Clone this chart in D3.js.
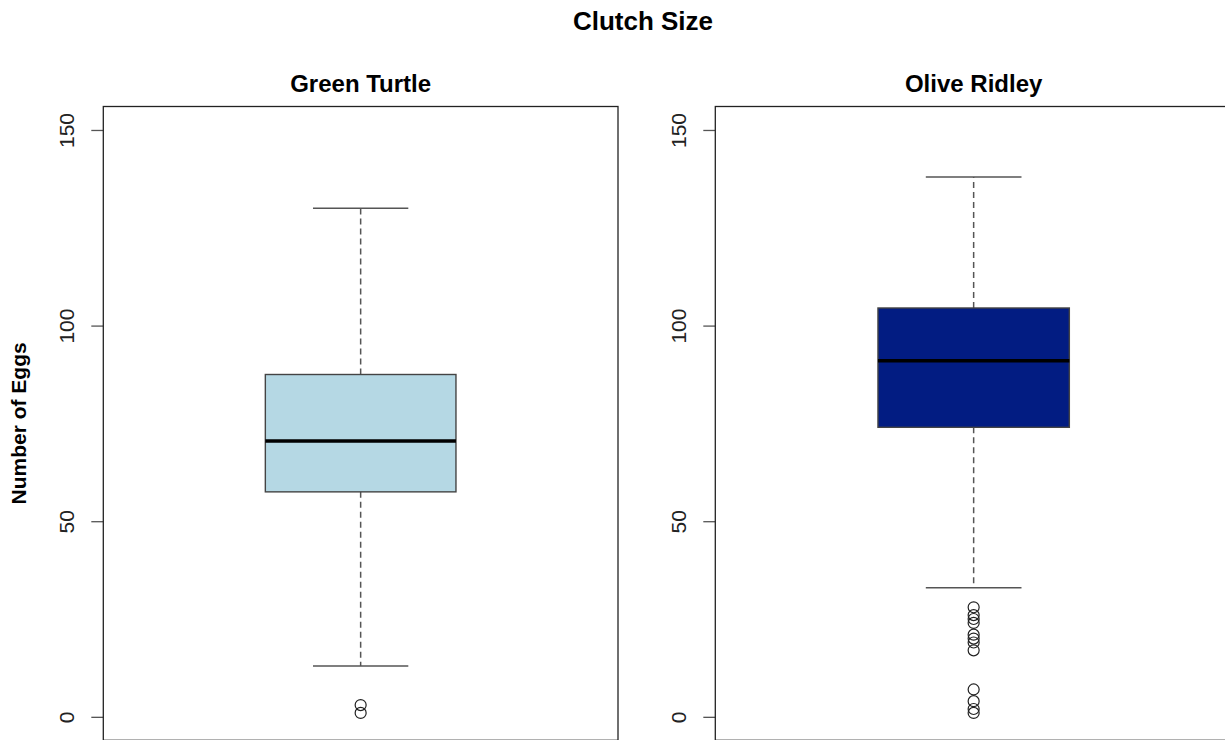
<!DOCTYPE html>
<html>
<head>
<meta charset="utf-8">
<script src="https://cdn.jsdelivr.net/npm/d3@7/dist/d3.min.js"></script>
<style>
  html, body { margin: 0; padding: 0; background: #fff; }
  svg { display: block; font-family: "Liberation Sans", Arial, Helvetica, sans-serif; }
</style>
</head>
<body>
<svg id="chart" width="1225" height="740"></svg>
<script>
// Clutch size summaries per species
const species    = ["Green Turtle", "Olive Ridley"];
const fills      = ["#b5d8e4", "#021c82"];
const whiskerLow = [13, 33];
const q1         = [57.5, 74];
const medians    = [70.5, 91];
const q3         = [87.5, 104.5];
const whiskerHigh= [130, 138];
const outliers   = [
  [3, 1],
  [28, 26, 25, 24, 21, 20, 19, 17, 7, 4, 2, 1]
];
const yTicks = [0, 50, 100, 150];

const svg = d3.select("#chart");

// shared vertical scale (0–150 with 4% padding on each side)
const y = d3.scaleLinear().domain([-6, 156]).range([740.3, 106.5]);

// horizontal extents of the two plot regions
const panels = [
  { left: 103.3, right: 618.0 },
  { left: 715.3, right: 1232.0 }
];

svg.append("text")
  .attr("x", 643).attr("y", 30)
  .attr("text-anchor", "middle")
  .attr("font-weight", "bold")
  .attr("font-size", 26)
  .text("Clutch Size");

svg.append("text")
  .attr("transform", "translate(26," + y(75) + ") rotate(-90)")
  .attr("text-anchor", "middle")
  .attr("font-weight", "bold")
  .attr("font-size", 21)
  .text("Number of Eggs");

species.forEach((name, i) => {
  const p = panels[i];
  const x = d3.scaleLinear().domain([0.46, 1.54]).range([p.left, p.right]);
  const g = svg.append("g");

  // panel title
  g.append("text")
    .attr("x", x(1)).attr("y", 92)
    .attr("text-anchor", "middle")
    .attr("font-weight", "bold")
    .attr("font-size", 24)
    .text(name);

  // y axis
  const axis = g.append("g")
    .attr("transform", "translate(" + p.left + ",0)")
    .call(d3.axisLeft(y).tickValues(yTicks).tickSize(12).tickPadding(0));
  axis.select(".domain").remove();
  axis.selectAll(".tick line").attr("stroke", "#555").attr("stroke-width", 1.3);
  axis.selectAll(".tick text")
    .attr("font-size", 21)
    .attr("fill", "#222")
    .attr("font-family", "'Liberation Sans', Arial, sans-serif")
    .attr("x", 0).attr("dy", 0)
    .attr("transform", "translate(-29,0) rotate(-90)")
    .attr("text-anchor", "middle");

  // whiskers (dashed)
  const dash = "6,4";
  g.append("line")
    .attr("x1", x(1)).attr("x2", x(1))
    .attr("y1", y(q3[i])).attr("y2", y(whiskerHigh[i]))
    .attr("stroke", "#555").attr("stroke-width", 1.5).attr("stroke-dasharray", dash);
  g.append("line")
    .attr("x1", x(1)).attr("x2", x(1))
    .attr("y1", y(q1[i])).attr("y2", y(whiskerLow[i]))
    .attr("stroke", "#555").attr("stroke-width", 1.5).attr("stroke-dasharray", dash);

  // whisker caps
  [whiskerLow[i], whiskerHigh[i]].forEach(v => {
    g.append("line")
      .attr("x1", x(0.9)).attr("x2", x(1.1))
      .attr("y1", y(v)).attr("y2", y(v))
      .attr("stroke", "#555").attr("stroke-width", 1.5);
  });

  // box
  g.append("rect")
    .attr("x", x(0.8)).attr("width", x(1.2) - x(0.8))
    .attr("y", y(q3[i])).attr("height", y(q1[i]) - y(q3[i]))
    .attr("fill", fills[i])
    .attr("stroke", "#444").attr("stroke-width", 1.4);

  // median
  g.append("line")
    .attr("x1", x(0.8)).attr("x2", x(1.2))
    .attr("y1", y(medians[i])).attr("y2", y(medians[i]))
    .attr("stroke", "#000").attr("stroke-width", 3.5);

  // outliers
  g.selectAll("circle.out")
    .data(outliers[i])
    .join("circle")
    .attr("class", "out")
    .attr("cx", x(1)).attr("cy", d => y(d))
    .attr("r", 5.5)
    .attr("fill", "none")
    .attr("stroke", "#222").attr("stroke-width", 1.2);

  // plot frame
  g.append("rect")
    .attr("x", p.left).attr("y", y(156))
    .attr("width", p.right - p.left).attr("height", y(-6) - y(156))
    .attr("fill", "none")
    .attr("stroke", "#222").attr("stroke-width", 1.3);
});
</script>
</body>
</html>
